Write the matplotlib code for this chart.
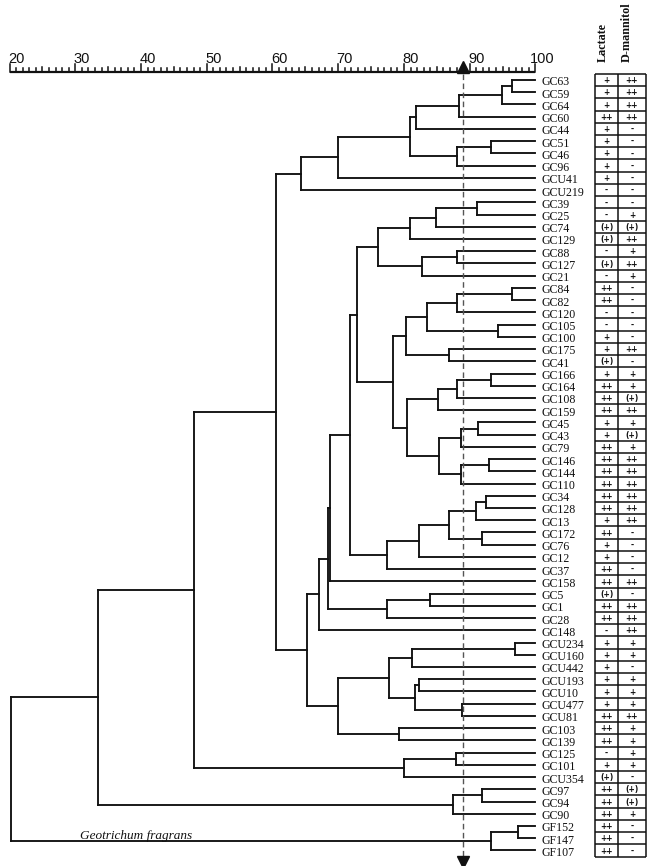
import matplotlib
matplotlib.use("Agg")
import matplotlib.pyplot as plt
from matplotlib.collections import LineCollection

# ---------------- data ----------------
leaves = ["GC63", "GC59", "GC64", "GC60", "GC44", "GC51", "GC46", "GC96", "GCU41", "GCU219",
          "GC39", "GC25", "GC74", "GC129", "GC88", "GC127", "GC21", "GC84", "GC82", "GC120",
          "GC105", "GC100", "GC175", "GC41", "GC166", "GC164", "GC108", "GC159", "GC45", "GC43",
          "GC79", "GC146", "GC144", "GC110", "GC34", "GC128", "GC13", "GC172", "GC76", "GC12",
          "GC37", "GC158", "GC5", "GC1", "GC28", "GC148", "GCU234", "GCU160", "GCU442", "GCU193",
          "GCU10", "GCU477", "GCU81", "GC103", "GC139", "GC125", "GC101", "GCU354", "GC97", "GC94",
          "GC90", "GF152", "GF147", "GF107"]

lactate = ["+", "+", "+", "++", "+", "+", "+", "+", "+", "-",
           "-", "-", "(+)", "(+)", "-", "(+)", "-", "++", "++", "-",
           "-", "+", "+", "(+)", "+", "++", "++", "++", "+", "+",
           "++", "++", "++", "++", "++", "++", "+", "++", "+", "+",
           "++", "++", "(+)", "++", "++", "-", "+", "+", "+", "+",
           "+", "+", "++", "++", "++", "-", "+", "(+)", "++", "++",
           "++", "++", "++", "++"]

mannitol = ["++", "++", "++", "++", "-", "-", "-", "-", "-", "-",
            "-", "+", "(+)", "++", "+", "++", "+", "-", "-", "-",
            "-", "-", "++", "-", "+", "+", "(+)", "++", "+", "(+)",
            "+", "++", "++", "++", "++", "++", "++", "-", "-", "-",
            "-", "++", "-", "++", "++", "++", "+", "+", "-", "+",
            "+", "+", "++", "+", "+", "+", "+", "-", "(+)", "(+)",
            "+", "-", "-", "-"]

# merges: (child a, child b, similarity %, new node name)
merges = [
    ("GC63", "GC59", 96.4, "a"), ("a", "GC64", 94.9, "b"), ("b", "GC60", 88.4, "c"),
    ("c", "GC44", 81.8, "d"), ("GC51", "GC46", 93.3, "e"), ("e", "GC96", 88.0, "f"),
    ("d", "f", 80.9, "g"), ("g", "GCU41", 69.9, "h"), ("h", "GCU219", 64.4, "F"),
    ("GC39", "GC25", 91.1, "i"), ("i", "GC74", 84.8, "j"), ("j", "GC129", 80.9, "k"),
    ("GC88", "GC127", 88.0, "l"), ("l", "GC21", 82.7, "m"), ("k", "m", 76.1, "n"),
    ("GC84", "GC82", 96.4, "o"), ("o", "GC120", 88.1, "p"), ("GC105", "GC100", 94.3, "q"),
    ("p", "q", 83.5, "r"), ("GC175", "GC41", 86.9, "s"), ("r", "s", 80.3, "t"),
    ("GC166", "GC164", 93.2, "u"), ("u", "GC108", 88.1, "v"), ("v", "GC159", 85.1, "w"),
    ("GC45", "GC43", 91.2, "x"), ("x", "GC79", 88.6, "y"), ("GC146", "GC144", 93.0, "z"),
    ("z", "GC110", 88.6, "aa"), ("y", "aa", 85.3, "ab"), ("w", "ab", 80.5, "ac"),
    ("t", "ac", 78.4, "ad"), ("n", "ad", 72.9, "ae"),
    ("GC34", "GC128", 92.5, "af"), ("af", "GC13", 90.9, "ag"), ("GC172", "GC76", 91.8, "ah"),
    ("ag", "ah", 86.9, "ai"), ("ai", "GC12", 82.3, "aj"), ("aj", "GC37", 77.4, "ak"),
    ("ae", "ak", 71.8, "al"), ("al", "GC158", 68.7, "am"), ("GC5", "GC1", 84.0, "an"),
    ("an", "GC28", 77.4, "ao"), ("am", "ao", 68.5, "ap"), ("ap", "GC148", 67.1, "aq"),
    ("GCU234", "GCU160", 96.9, "ar"), ("ar", "GCU442", 81.2, "as"),
    ("GCU193", "GCU10", 82.3, "at"), ("GCU477", "GCU81", 88.8, "au"), ("at", "au", 81.7, "av"),
    ("as", "av", 77.7, "aw"), ("GC103", "GC139", 79.3, "ax"), ("aw", "ax", 70.0, "ay"),
    ("aq", "ay", 65.3, "az"), ("F", "az", 60.5, "D"),
    ("GC125", "GC101", 87.9, "ba"), ("ba", "GCU354", 80.0, "E"), ("D", "E", 48.1, "B"),
    ("GC97", "GC94", 91.9, "bb"), ("bb", "GC90", 87.5, "C"), ("B", "C", 33.5, "A"),
    ("GF152", "GF147", 97.3, "bc"), ("bc", "GF107", 93.3, "G"), ("A", "G", 20.2, "root"),
]

scale_ticks = [20, 30, 40, 50, 60, 70, 80, 90, 100]
cutoff = 88.9
columns = ["Lactate", "D-mannitol"]

# ---------------- figure ----------------
W, H = 647, 866
fig = plt.figure(figsize=(W / 100, H / 100), dpi=100)
ax = fig.add_axes([0, 0, 1, 1])
ax.axis("off")
ax.set_xlim(18.555, 116.96)
ax.set_ylim(64.27, -6.541)

lw = 1.35
col = "#111111"

pos = {name: (100.0, i) for i, name in enumerate(leaves)}
segs = []
for a, b, s, name in merges:
    xa, ya = pos[a]
    xb, yb = pos[b]
    segs.append([(xa, ya), (s, ya)])
    segs.append([(xb, yb), (s, yb)])
    segs.append([(s, ya), (s, yb)])
    pos[name] = (s, (ya + yb) / 2)
ax.add_collection(LineCollection(segs, colors=col, linewidths=lw, capstyle="projecting"))

# leaf labels
for i, name in enumerate(leaves):
    ax.text(100.95, i + 0.2, name, ha="left", va="center", fontsize=8.6,
            family="Liberation Serif", color="#111111")

ax.text(30.7, 62.05, "Geotrichum fragrans", ha="left", va="baseline", fontsize=9.5,
        family="Liberation Serif", style="italic", color="#111111")

# scale ruler
ybase = -0.68
ax.plot([20, 100], [ybase, ybase], color=col, lw=1.6, solid_capstyle="butt")
for v in range(20, 101):
    if v % 10 == 0:
        h = 0.6
    elif v % 5 == 0:
        h = 0.42
    else:
        h = 0.32
    ax.plot([v, v], [ybase, ybase - h], color=col, lw=1.1)
for v in scale_ticks:
    ax.text(v + 1.0, ybase - 0.75, str(v), ha="center", va="baseline", fontsize=10.5,
            family="Liberation Sans", color="#111111")

# cutoff line with triangles
ax.plot([cutoff, cutoff], [-1.2, 64.0], color="#555555", lw=1.0, ls=(0, (4, 2.5)))
ax.plot([cutoff], [-1.1], marker="^", ms=8, color="#111111", mec="#111111")
ax.plot([cutoff], [63.95], marker="v", ms=8, color="#111111", mec="#111111")

# table
cx = [109.05, 112.6, 116.75]
n = len(leaves)
tl = []
for i in range(n + 1):
    tl.append([(cx[0], i - 0.5), (cx[2], i - 0.5)])
for x in cx:
    tl.append([(x, -0.5), (x, n - 0.5)])
ax.add_collection(LineCollection(tl, colors=col, linewidths=1.1))
for i in range(n):
    for j, vals in enumerate([lactate, mannitol]):
        ax.text((cx[j] + cx[j + 1]) / 2, i + 0.05, vals[i], ha="center", va="center",
                fontsize=5.5, family="DejaVu Sans", weight="bold", color="#111111")

hx = [110.3, 113.85]
for j, c in enumerate(columns):
    ax.text(hx[j], -1.45, c, rotation=90, ha="center", va="bottom", fontsize=8.7,
            family="Liberation Serif", weight="bold", color="#111111")

fig.savefig("out.png", dpi=100)
